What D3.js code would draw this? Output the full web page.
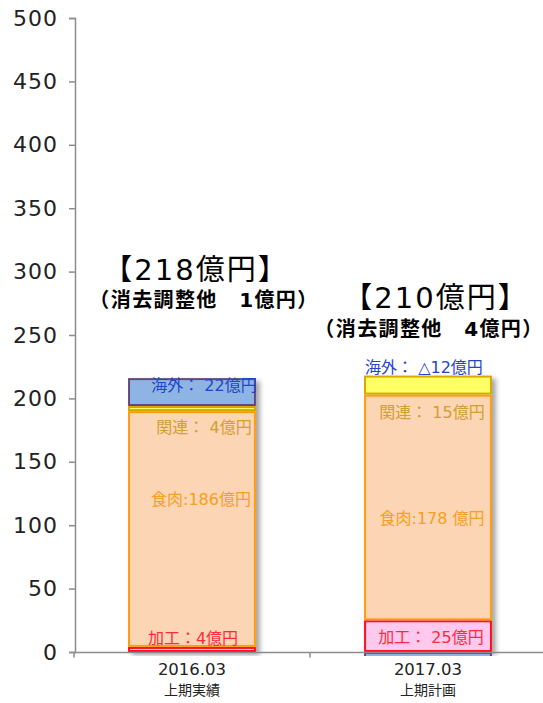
<!DOCTYPE html>
<html lang="ja">
<head>
<meta charset="utf-8">
<script src="https://cdn.jsdelivr.net/npm/d3@7"></script>
<style>
  html, body { margin: 0; padding: 0; background: #fff; }
  svg { display: block; font-family: "DejaVu Sans", "Noto Sans CJK JP", sans-serif; }
</style>
</head>
<body>
<svg id="chart" width="543" height="703"></svg>
<script>
// Periods on the x axis
const periods = ["2016.03", "2017.03"];
const periodNotes = ["上期実績", "上期計画"];

// Segment values (億円), stacked bottom to top
const segments = ["加工", "食肉", "関連", "海外"];
const kakou  = [4, 25];
const shokuniku = [186, 178];
const kanren = [4, 15];
const kaigai = [22, -12];

// Segment label texts
const segLabels = {
  "加工": ["加工：4億円", "加工： 25億円"],
  "食肉": ["食肉:186億円", "食肉:178 億円"],
  "関連": ["関連： 4億円", "関連： 15億円"],
  "海外": ["海外： 22億円", "海外： △12億円"]
};

// Totals and adjustments
const totals = [218, 210];
const adjustments = [1, 4];

const yTicks = [0, 50, 100, 150, 200, 250, 300, 350, 400, 450, 500];

// Styling per segment
const style = {
  "加工": { fill: "#ffc9ef", stroke: "#ff1020", text: "#ff2a3a" },
  "食肉": { fill: "#fcd5b5", stroke: "#ff9c10", text: "#f5a020" },
  "関連": { fill: "#ffff66", stroke: "#d8a800", text: "#d0a030" },
  "海外": { fill: "#8eb4e3", stroke: "#604a7b", text: "#2444d0" }
};

// Label anchor heights (in chart units) and horizontal offsets from bar centre
const labelLayout = {
  "加工": { y: [11, 11.8], dx: [1, 3] },
  "食肉": { y: [120, 105.7], dx: [9, 4] },
  "関連": { y: [177.4, 189.3], dx: [12, 4] },
  "海外": { y: [210.6, 224.8], dx: [12, -4] }
};
const totalLayout = { y: [301, 279], subY: [277.6, 254.7], dx: [4, 8], subDx: [12, 1] };

const values = { "加工": kakou, "食肉": shokuniku, "関連": kanren, "海外": kaigai };

const svg = d3.select("#chart");
const margin = { left: 74, right: 546, top: 18, bottom: 652 };

const x = d3.scaleBand()
  .domain(periods)
  .range([margin.left, margin.right])
  .paddingInner(0.458)
  .paddingOuter(0.229);

const y = d3.scaleLinear().domain([0, 500]).range([margin.bottom, margin.top]);

// Drop shadow for bars
const defs = svg.append("defs");
const f = defs.append("filter").attr("id", "shadow")
  .attr("x", "-10%").attr("y", "-10%").attr("width", "130%").attr("height", "130%");
f.append("feDropShadow").attr("dx", 4).attr("dy", 3).attr("stdDeviation", 2.5)
  .attr("flood-color", "#000").attr("flood-opacity", 0.35);

defs.append("clipPath").attr("id", "plotClip")
  .append("rect").attr("x", 0).attr("y", 0).attr("width", 543).attr("height", margin.bottom + 4);

// Build stacked rectangles
const rows = [];
periods.forEach((p, i) => {
  let pos = 0, neg = 0;
  segments.forEach(s => {
    const v = values[s][i];
    let y0, y1;
    if (v >= 0) { y0 = pos; y1 = pos + v; pos = y1; }
    else { y0 = neg + v; y1 = neg; neg = y0; }
    rows.push({ period: p, i, seg: s, y0, y1, v });
  });
});

const barG = svg.append("g").attr("clip-path", "url(#plotClip)");

// Shadow layer per bar
periods.forEach((p, i) => {
  const stack = rows.filter(r => r.i === i && r.v > 0);
  const top = d3.max(stack, r => r.y1);
  barG.append("rect")
    .attr("x", x(p)).attr("width", x.bandwidth())
    .attr("y", y(top)).attr("height", y(0) - y(top))
    .attr("fill", "#fff").attr("filter", "url(#shadow)");
});

barG.selectAll("rect.seg")
  .data(rows)
  .join("rect")
  .attr("class", "seg")
  .attr("x", d => x(d.period) + 1)
  .attr("width", x.bandwidth() - 2)
  .attr("y", d => y(d.y1) + 1)
  .attr("height", d => Math.max(0, y(d.y0) - y(d.y1) - 2))
  .attr("fill", d => style[d.seg].fill)
  .attr("stroke", d => style[d.seg].stroke)
  .attr("stroke-width", 2);

// Axes
const axisColor = "#8c8c8c";
const yAxis = svg.append("g")
  .attr("transform", `translate(${margin.left + 1},0)`)
  .call(d3.axisLeft(y).tickValues(yTicks).tickSize(6).tickPadding(11).tickSizeOuter(6));
yAxis.select(".domain").attr("stroke", axisColor).attr("stroke-width", 1.5);
yAxis.selectAll(".tick line").attr("stroke", axisColor).attr("stroke-width", 1.5);
yAxis.selectAll(".tick text")
  .attr("fill", "#222").attr("font-size", 22).attr("letter-spacing", 1)
  .attr("font-family", "'DejaVu Sans', sans-serif");

const xAxisG = svg.append("g").attr("transform", `translate(0,${margin.bottom + 0.5})`);
xAxisG.append("line")
  .attr("x1", margin.left).attr("x2", margin.right)
  .attr("stroke", axisColor).attr("stroke-width", 1.5);
const boundaries = [margin.left, x(periods[1]) - x.step() * x.paddingInner() / 2, margin.right];
xAxisG.selectAll("line.tk").data(boundaries).join("line")
  .attr("class", "tk")
  .attr("x1", d => d).attr("x2", d => d).attr("y1", 0).attr("y2", 5)
  .attr("stroke", axisColor).attr("stroke-width", 1.5);

periods.forEach((p, i) => {
  const cx = x(p) + x.bandwidth() / 2;
  svg.append("text").attr("x", cx).attr("y", margin.bottom + 23)
    .attr("text-anchor", "middle").attr("font-size", 16.5).attr("fill", "#222")
    .text(p);
  svg.append("text").attr("x", cx).attr("y", margin.bottom + 43)
    .attr("text-anchor", "middle").attr("font-size", 14).attr("fill", "#222")
    .text(periodNotes[i]);
});

// Segment labels
segments.forEach(s => {
  periods.forEach((p, i) => {
    const cx = x(p) + x.bandwidth() / 2 + labelLayout[s].dx[i];
    svg.append("text")
      .attr("x", cx).attr("y", y(labelLayout[s].y[i]))
      .attr("dy", "0.35em")
      .attr("text-anchor", "middle")
      .attr("font-size", 16)
      .attr("fill", style[s].text)
      .text(segLabels[s][i]);
  });
});

// Totals
periods.forEach((p, i) => {
  const cx = x(p) + x.bandwidth() / 2;
  svg.append("text")
    .attr("x", cx + totalLayout.dx[i]).attr("y", y(totalLayout.y[i]))
    .attr("dy", "0.35em").attr("text-anchor", "middle")
    .attr("font-size", 29).attr("letter-spacing", 2).attr("fill", "#000")
    .text(`【${totals[i]}億円】`);
  svg.append("text")
    .attr("x", cx + totalLayout.subDx[i]).attr("y", y(totalLayout.subY[i]))
    .attr("dy", "0.35em").attr("text-anchor", "middle")
    .attr("font-size", 20).attr("letter-spacing", 1.4)
    .attr("font-weight", "bold").attr("fill", "#000")
    .text(`（消去調整他　${adjustments[i]}億円）`);
});
</script>
</body>
</html>
